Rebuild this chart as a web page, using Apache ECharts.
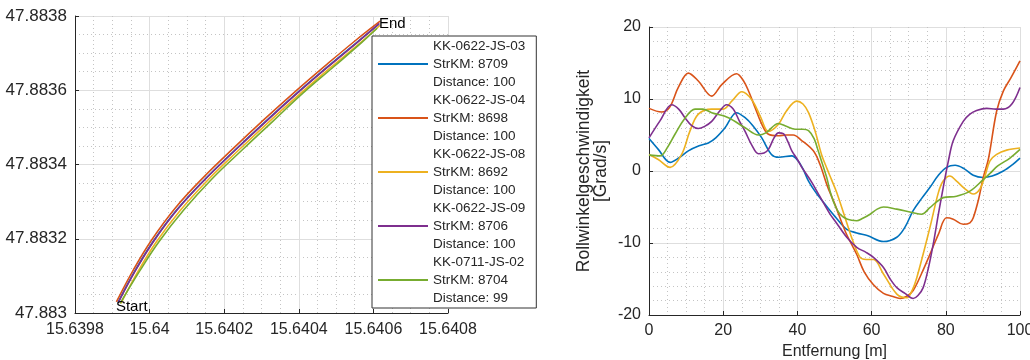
<!DOCTYPE html>
<html><head><meta charset="utf-8">
<script src="https://cdn.jsdelivr.net/npm/echarts@6/dist/echarts.min.js"></script>
<style>html,body{margin:0;padding:0;background:#fff}#c{width:1030px;height:360px}</style>
</head><body><div id="c"></div>
<script>
// ---- Legend / series metadata ----
const trackIds = ['KK-0622-JS-03','KK-0622-JS-04','KK-0622-JS-08','KK-0622-JS-09','KK-0711-JS-02'];
const strKm = [8709, 8698, 8692, 8706, 8704];
const distances = [100, 100, 100, 100, 99];
const colors = ['#0072BD','#D95319','#EDB120','#7E2F8E','#77AC30'];

// ---- Left chart: GPS tracks [longitude, latitude] ----
const track03 = [[15.639915,47.883028],[15.639961,47.883114],[15.640009,47.883192],[15.640073,47.883278],[15.640149,47.883361],[15.640229,47.883439],[15.640312,47.883517],[15.640395,47.883592],[15.640476,47.883662],[15.640556,47.883729],[15.640615,47.883778]];
const track04 = [[15.639911,47.883030],[15.639957,47.883117],[15.640005,47.883196],[15.640069,47.883283],[15.640145,47.883366],[15.640225,47.883444],[15.640308,47.883522],[15.640391,47.883597],[15.640472,47.883667],[15.640552,47.883734],[15.640618,47.883786]];
const track08 = [[15.639923,47.883026],[15.639969,47.883112],[15.640017,47.883190],[15.640082,47.883276],[15.640157,47.883359],[15.640237,47.883437],[15.640320,47.883515],[15.640403,47.883590],[15.640484,47.883660],[15.640564,47.883727],[15.640618,47.883775]];
const track09 = [[15.639916,47.883028],[15.639962,47.883114],[15.640010,47.883192],[15.640074,47.883278],[15.640150,47.883361],[15.640230,47.883439],[15.640313,47.883517],[15.640396,47.883592],[15.640477,47.883662],[15.640557,47.883729],[15.640616,47.883780]];
const track02 = [[15.639921,47.883026],[15.639974,47.883114],[15.640025,47.883192],[15.640092,47.883278],[15.640167,47.883361],[15.640248,47.883439],[15.640331,47.883517],[15.640411,47.883592],[15.640492,47.883662],[15.640569,47.883729],[15.640610,47.883767]];
const tracks = [track03, track04, track08, track09, track02];

// ---- Right chart: roll rate [distance m, deg/s] ----
const roll03 = [[0,4.5],[2.5,3.0],[5.7,1.2],[8,1.8],[10.6,2.8],[13.5,3.5],[16,3.9],[18,4.6],[20.5,6.0],[23.6,8.1],[25.9,7.4],[28,6.3],[30.4,4.6],[33,2.3],[35,1.9],[38.5,2.1],[40.2,1.4],[41.5,0.3],[43,-1.4],[45,-3.0],[47.4,-4.6],[50.1,-6.3],[53.3,-8.1],[56,-8.6],[59,-9.0],[63.2,-9.8],[66.8,-9.2],[69,-7.8],[71.2,-5.5],[73.5,-3.8],[75.7,-2.3],[78,-0.6],[80.2,0.5],[82.5,0.8],[85,0.3],[87.4,-0.6],[90,-0.9],[92.5,-0.7],[95.5,0],[98,0.9],[100,1.8]];
const roll04 = [[0,8.7],[3.4,8.2],[5.5,8.8],[7.9,11.6],[10.6,13.6],[13.3,12.5],[16.9,10.4],[19.6,12.0],[23.6,13.5],[25.5,12.5],[27,10.9],[28.6,8.8],[30.4,6.5],[32.2,5.1],[34.9,4.9],[37,5.0],[38.9,5.0],[41,4.3],[44.3,2.8],[46.1,0.9],[48,-2.0],[50,-4.5],[53,-8.5],[56,-11.6],[58,-14.0],[60.5,-15.8],[63.2,-17.0],[65.5,-17.4],[67.7,-17.7],[69.5,-17.4],[71.2,-16.6],[73.5,-14.2],[75.7,-11.6],[78,-8.8],[80.2,-6.5],[82,-6.7],[84.7,-7.4],[86.5,-7.2],[87.4,-6.5],[88.8,-4.0],[90.1,-0.9],[91.5,1.7],[93.7,8.3],[95.5,11.1],[97.5,12.9],[100,15.3]];
const roll08 = [[0,2.3],[2.5,1.6],[5.7,0.5],[8.8,2.3],[11,5.5],[13.3,7.9],[16.9,8.6],[20,8.6],[22.5,9.8],[25,11.0],[27.7,9.9],[30,7.6],[32.2,5.5],[34.9,6.5],[37,8.3],[39.8,9.7],[41.5,9.3],[43,8.1],[44.8,5.5],[46.5,2.3],[48,0.3],[49.2,-1.2],[50.6,-3.0],[53.3,-7.2],[55,-9.8],[56.9,-12.0],[58.5,-12.3],[60.5,-12.3],[63.2,-14.3],[66.8,-17.1],[69.5,-17.6],[71,-16.5],[72.2,-14.8],[75.7,-7.9],[78,-3.0],[79.3,-1.4],[81.1,-0.7],[82.9,-1.4],[85,-2.4],[87.4,-3.2],[89.2,-2.5],[90.5,-0.8],[91.9,1.4],[93.7,2.3],[96.4,2.9],[100,3.2]];
const roll09 = [[0,4.6],[3,7.0],[6.1,9.2],[8,8.6],[9.7,7.4],[11.5,6.3],[13.3,5.9],[15,6.2],[16.9,6.9],[19,8.3],[20.9,9.2],[22.7,8.6],[24.3,7.0],[25.9,5.5],[27.7,3.6],[29.5,2.4],[31,2.5],[32.2,3.0],[33.7,4.6],[34.9,5.3],[36.2,5.2],[37.5,4.0],[38.5,2.8],[40,1.6],[41.2,0.5],[43.8,-1.5],[46,-3.5],[48.8,-6.0],[50.1,-6.9],[53.3,-9.2],[56,-10.6],[58.5,-11.3],[60.5,-12.0],[63.2,-13.4],[65,-15.0],[66.8,-16.2],[69,-17.0],[71.2,-17.7],[72.5,-17.3],[73.9,-16.2],[75.3,-13.5],[76.6,-10.2],[78,-6.0],[79.3,-2.3],[80.7,1.4],[82,4.2],[84.7,6.9],[86.5,7.9],[88.3,8.4],[91,8.7],[93.5,8.6],[95.5,8.6],[97.8,9.3],[100,11.6]];
const roll02 = [[0,2.2],[3,2.1],[5,3.3],[7,5.1],[9.5,7.2],[12.4,8.6],[14.5,8.6],[16.9,8.1],[21.4,7.4],[25.9,6.0],[29.5,5.0],[31.5,5.3],[34.9,6.6],[37,6.2],[39.4,5.8],[41.5,5.8],[43,5.6],[44.5,4.5],[45.6,2.8],[47.9,-0.9],[48.8,-2.8],[50,-4.6],[51.5,-6.0],[53.5,-6.7],[56,-6.9],[57.5,-6.6],[59.6,-6.0],[61.5,-5.3],[63.2,-5.0],[66.8,-5.3],[71.2,-5.8],[73.5,-6.0],[75.7,-5.1],[77.5,-4.3],[79.3,-3.7],[82.9,-3.5],[86.5,-2.8],[90.1,-1.2],[92,-0.3],[94,0.7],[97.3,1.8],[100,3.0]];
const rolls = [roll03, roll04, roll08, roll09, roll02];

const FONT = '"Liberation Sans", Arial, Helvetica, sans-serif';
const TXT = '#262626';
const names = trackIds.map((id, i) => id + '\nStrKM: ' + strKm[i] + '\nDistance: ' + distances[i]);

function fmt(v){ return String(+v.toFixed(4)); }
function axisCommon(extra){
  return Object.assign({
    type: 'value',
    axisLine: {show: true, onZero: false, lineStyle: {color: TXT, width: 1}},
    axisTick: {show: true, inside: true, length: 4, lineStyle: {color: TXT}},
    splitLine: {show: true, lineStyle: {color: '#dedede', width: 1}},
    minorSplitLine: {show: true, lineStyle: {color: '#c4c4c4', type: [1, 3], width: 1}},
    axisLabel: {color: TXT, fontSize: 16, fontFamily: FONT, margin: 8},
    nameTextStyle: {color: TXT, fontSize: 16, fontFamily: FONT}
  }, extra);
}

const series = [];
tracks.forEach((t, i) => {
  const s = {
    name: names[i], type: 'line', xAxisIndex: 0, yAxisIndex: 0,
    data: t, smooth: 0.4, showSymbol: false, symbol: 'none',
    lineStyle: {width: 1.6, color: colors[i]}, itemStyle: {color: colors[i]},
    z: 3
  };
  if (i === 0) {
    s.markPoint = {
      symbol: 'circle', symbolSize: 0, silent: true,
      label: {show: true, position: 'right', distance: 0, formatter: '{b}', color: '#000', fontSize: 15, fontFamily: FONT},
      data: [{name: 'Start', coord: t[0], label: {offset: [-2, 4]}}, {name: 'End', coord: t[t.length - 1]}]
    };
  }
  series.push(s);
});
rolls.forEach((r, i) => {
  series.push({
    name: names[i], type: 'line', xAxisIndex: 1, yAxisIndex: 1,
    data: r, smooth: 0.35, showSymbol: false, symbol: 'none',
    lineStyle: {width: 1.6, color: colors[i]}, itemStyle: {color: colors[i]}
  });
});

const chart = echarts.init(document.getElementById('c'), null, {renderer: 'canvas'});
chart.setOption({
  animation: false,
  backgroundColor: '#fff',
  grid: [
    {left: 75, top: 16, width: 373, height: 297, outerBoundsMode: 'none', containLabel: false},
    {left: 649, top: 27, width: 371, height: 288, outerBoundsMode: 'none', containLabel: false}
  ],
  xAxis: [
    axisCommon({gridIndex: 0, min: 15.6398, max: 15.6408, interval: 0.0002, minorTick: {show: false, splitNumber: 4},
      axisLabel: {color: TXT, fontSize: 16, fontFamily: FONT, margin: 9, formatter: fmt, showMaxLabel: true}}),
    axisCommon({gridIndex: 1, min: 0, max: 100, interval: 20, minorTick: {show: false, splitNumber: 4},
      name: 'Entfernung [m]', nameLocation: 'middle', nameGap: 29})
  ],
  yAxis: [
    axisCommon({gridIndex: 0, min: 47.883, max: 47.8838, interval: 0.0002, minorTick: {show: false, splitNumber: 4},
      axisLabel: {color: TXT, fontSize: 17, fontFamily: FONT, margin: 8, formatter: fmt}}),
    axisCommon({gridIndex: 1, min: -20, max: 20, interval: 10, minorTick: {show: false, splitNumber: 5},
      name: 'Rollwinkelgeschwindigkeit\n[Grad/s]', nameLocation: 'middle', nameGap: 39,
      nameTextStyle: {color: TXT, fontSize: 17.5, lineHeight: 17, fontFamily: FONT}})
  ],
  legend: {
    data: names, orient: 'vertical', left: 372, top: 36,
    padding: [1, 11, 1, 5], itemGap: 0, itemWidth: 50, itemHeight: 54,
    backgroundColor: '#fff', borderColor: '#333', borderWidth: 1,
    selectedMode: false,
    itemStyle: {opacity: 0},
    textStyle: {fontSize: 13.5, lineHeight: 18, color: TXT, fontFamily: FONT}
  },
  series: series
});
</script>
</body></html>
